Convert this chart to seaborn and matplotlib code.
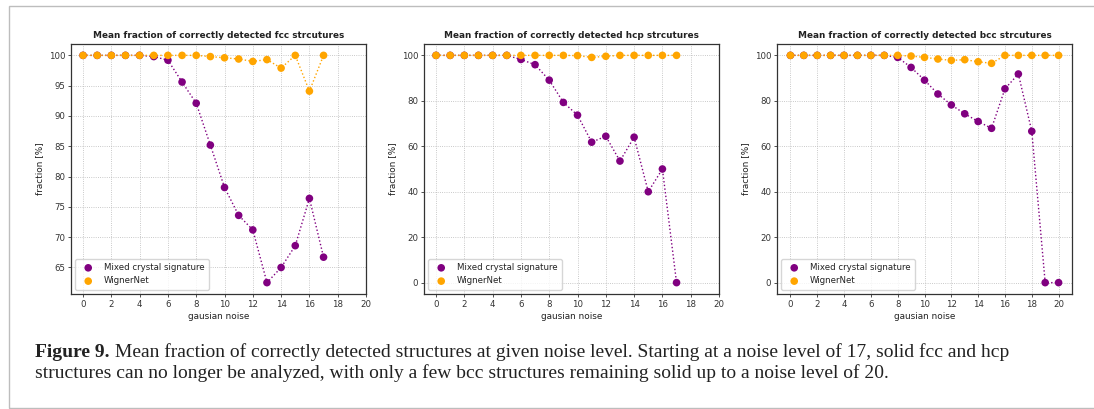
import numpy as np
import pandas as pd
import matplotlib
matplotlib.use("Agg")
import matplotlib.pyplot as plt
from matplotlib.patches import Rectangle
import seaborn as sns

# Mean fraction (%) of correctly detected structures per gaussian noise level
noise_fcc = list(range(0, 18))
mixed_fcc = [100, 100, 100, 100, 100, 99.8, 99.2, 95.6, 92.1, 85.2, 78.2, 73.6,
             71.2, 62.5, 65.0, 68.6, 76.4, 66.7]
wigner_fcc = [100, 100, 100, 100, 100, 100, 100, 100, 100, 99.8, 99.6, 99.4,
              99.0, 99.3, 97.9, 100, 94.1, 100]

noise_hcp = list(range(0, 18))
mixed_hcp = [100, 100, 100, 100, 100, 100, 98.2, 95.9, 89.1, 79.3, 73.7, 61.8,
             64.4, 53.5, 64.0, 40.0, 50.0, 0]
wigner_hcp = [100, 100, 100, 100, 100, 100, 100, 100, 100, 100, 99.9, 99.1,
              99.6, 100, 100, 100, 100, 100]

noise_bcc = list(range(0, 21))
mixed_bcc = [100, 100, 100, 100, 100, 100, 100, 100, 99.1, 94.7, 89.1, 83.0,
             78.2, 74.3, 70.9, 67.9, 85.3, 91.8, 66.6, 0, 0]
wigner_bcc = [100, 100, 100, 100, 100, 100, 100, 100, 100, 99.7, 99.1, 98.4,
              97.8, 98.1, 97.2, 96.5, 100, 100, 100, 100, 100]

structures = ["fcc", "hcp", "bcc"]
series_names = ["Mixed crystal signature", "WignerNet"]
colors = {"Mixed crystal signature": "#800080", "WignerNet": "#FFA500"}

panels = {
    "fcc": (noise_fcc, mixed_fcc, wigner_fcc),
    "hcp": (noise_hcp, mixed_hcp, wigner_hcp),
    "bcc": (noise_bcc, mixed_bcc, wigner_bcc),
}

caption_bold = "Figure 9."
caption_line1 = (" Mean fraction of correctly detected structures at given noise level. "
                 "Starting at a noise level of 17, solid fcc and hcp")
caption_line2 = ("structures can no longer be analyzed, with only a few bcc structures "
                 "remaining solid up to a noise level of 20.")

sns.set_theme(style="ticks")
plt.rcParams.update({
    "font.family": ["DejaVu Sans"],
    "font.size": 6.2,
    "axes.edgecolor": "#333333",
    "axes.linewidth": 0.9,
    "xtick.major.size": 2.2,
    "ytick.major.size": 2.2,
    "xtick.major.width": 0.6,
    "ytick.major.width": 0.6,
    "xtick.color": "#333333",
    "ytick.color": "#333333",
    "text.color": "#222222",
    "axes.labelcolor": "#222222",
})

W, H = 1094, 409
fig = plt.figure(figsize=(W / 100, H / 100), dpi=100)

lefts = [71, 424, 777]
for left, struct in zip(lefts, structures):
    ax = fig.add_axes([left / W, 115 / H, 295 / W, 250 / H])
    noise, mixed, wigner = panels[struct]
    df = pd.DataFrame({
        "noise": noise * 2,
        "fraction": mixed + wigner,
        "method": [series_names[0]] * len(noise) + [series_names[1]] * len(noise),
    })
    for name in series_names:
        sub = df[df["method"] == name]
        sns.lineplot(data=sub, x="noise", y="fraction", ax=ax, color=colors[name],
                     linestyle=":", linewidth=1.0, legend=False, zorder=2)
        sns.scatterplot(data=sub, x="noise", y="fraction", ax=ax, color=colors[name],
                        s=30, edgecolor="none", label=name, zorder=3)
    ax.grid(True, linestyle=":", color="#b8b8b8", linewidth=0.6)
    ax.set_axisbelow(True)
    ax.set_xticks(range(0, 21, 2))
    if struct != "bcc":
        ax.set_xlim(right=20)
    ax.tick_params(labelsize=6.2, pad=2)
    ax.set_xlabel("gausian noise", fontsize=6.4, labelpad=2)
    ax.set_ylabel("fraction [%]", fontsize=6.4, labelpad=3)
    ax.set_title(f"Mean fraction of correctly detected {struct} strcutures",
                 fontsize=6.4, fontweight="bold", pad=4)
    ax.legend(loc="lower left", fontsize=6.2, markerscale=1.0, handletextpad=0.8,
              borderpad=0.5, labelspacing=0.5)

# Caption under the panels
cap_family = ["Liberation Serif", "DejaVu Serif"]
cap_size = 14
t = fig.text(35 / W, 1 - 357 / H, caption_bold, fontsize=cap_size, fontweight="bold",
             family=cap_family, ha="left", va="baseline")
fig.canvas.draw()
bb = t.get_window_extent()
fig.text(bb.x1 / W, 1 - 357 / H, caption_line1, fontsize=cap_size, family=cap_family,
         ha="left", va="baseline")
fig.text(35 / W, 1 - 378 / H, caption_line2, fontsize=cap_size, family=cap_family,
         ha="left", va="baseline")

# Frame around the figure block
fig.patches.append(Rectangle((9 / W, 1 - 408 / H), 1.2, (408 - 6) / H,
                             transform=fig.transFigure, fill=False,
                             edgecolor="#bdbdbd", linewidth=1.0, clip_on=False))

fig.savefig("out.png", dpi=100)
